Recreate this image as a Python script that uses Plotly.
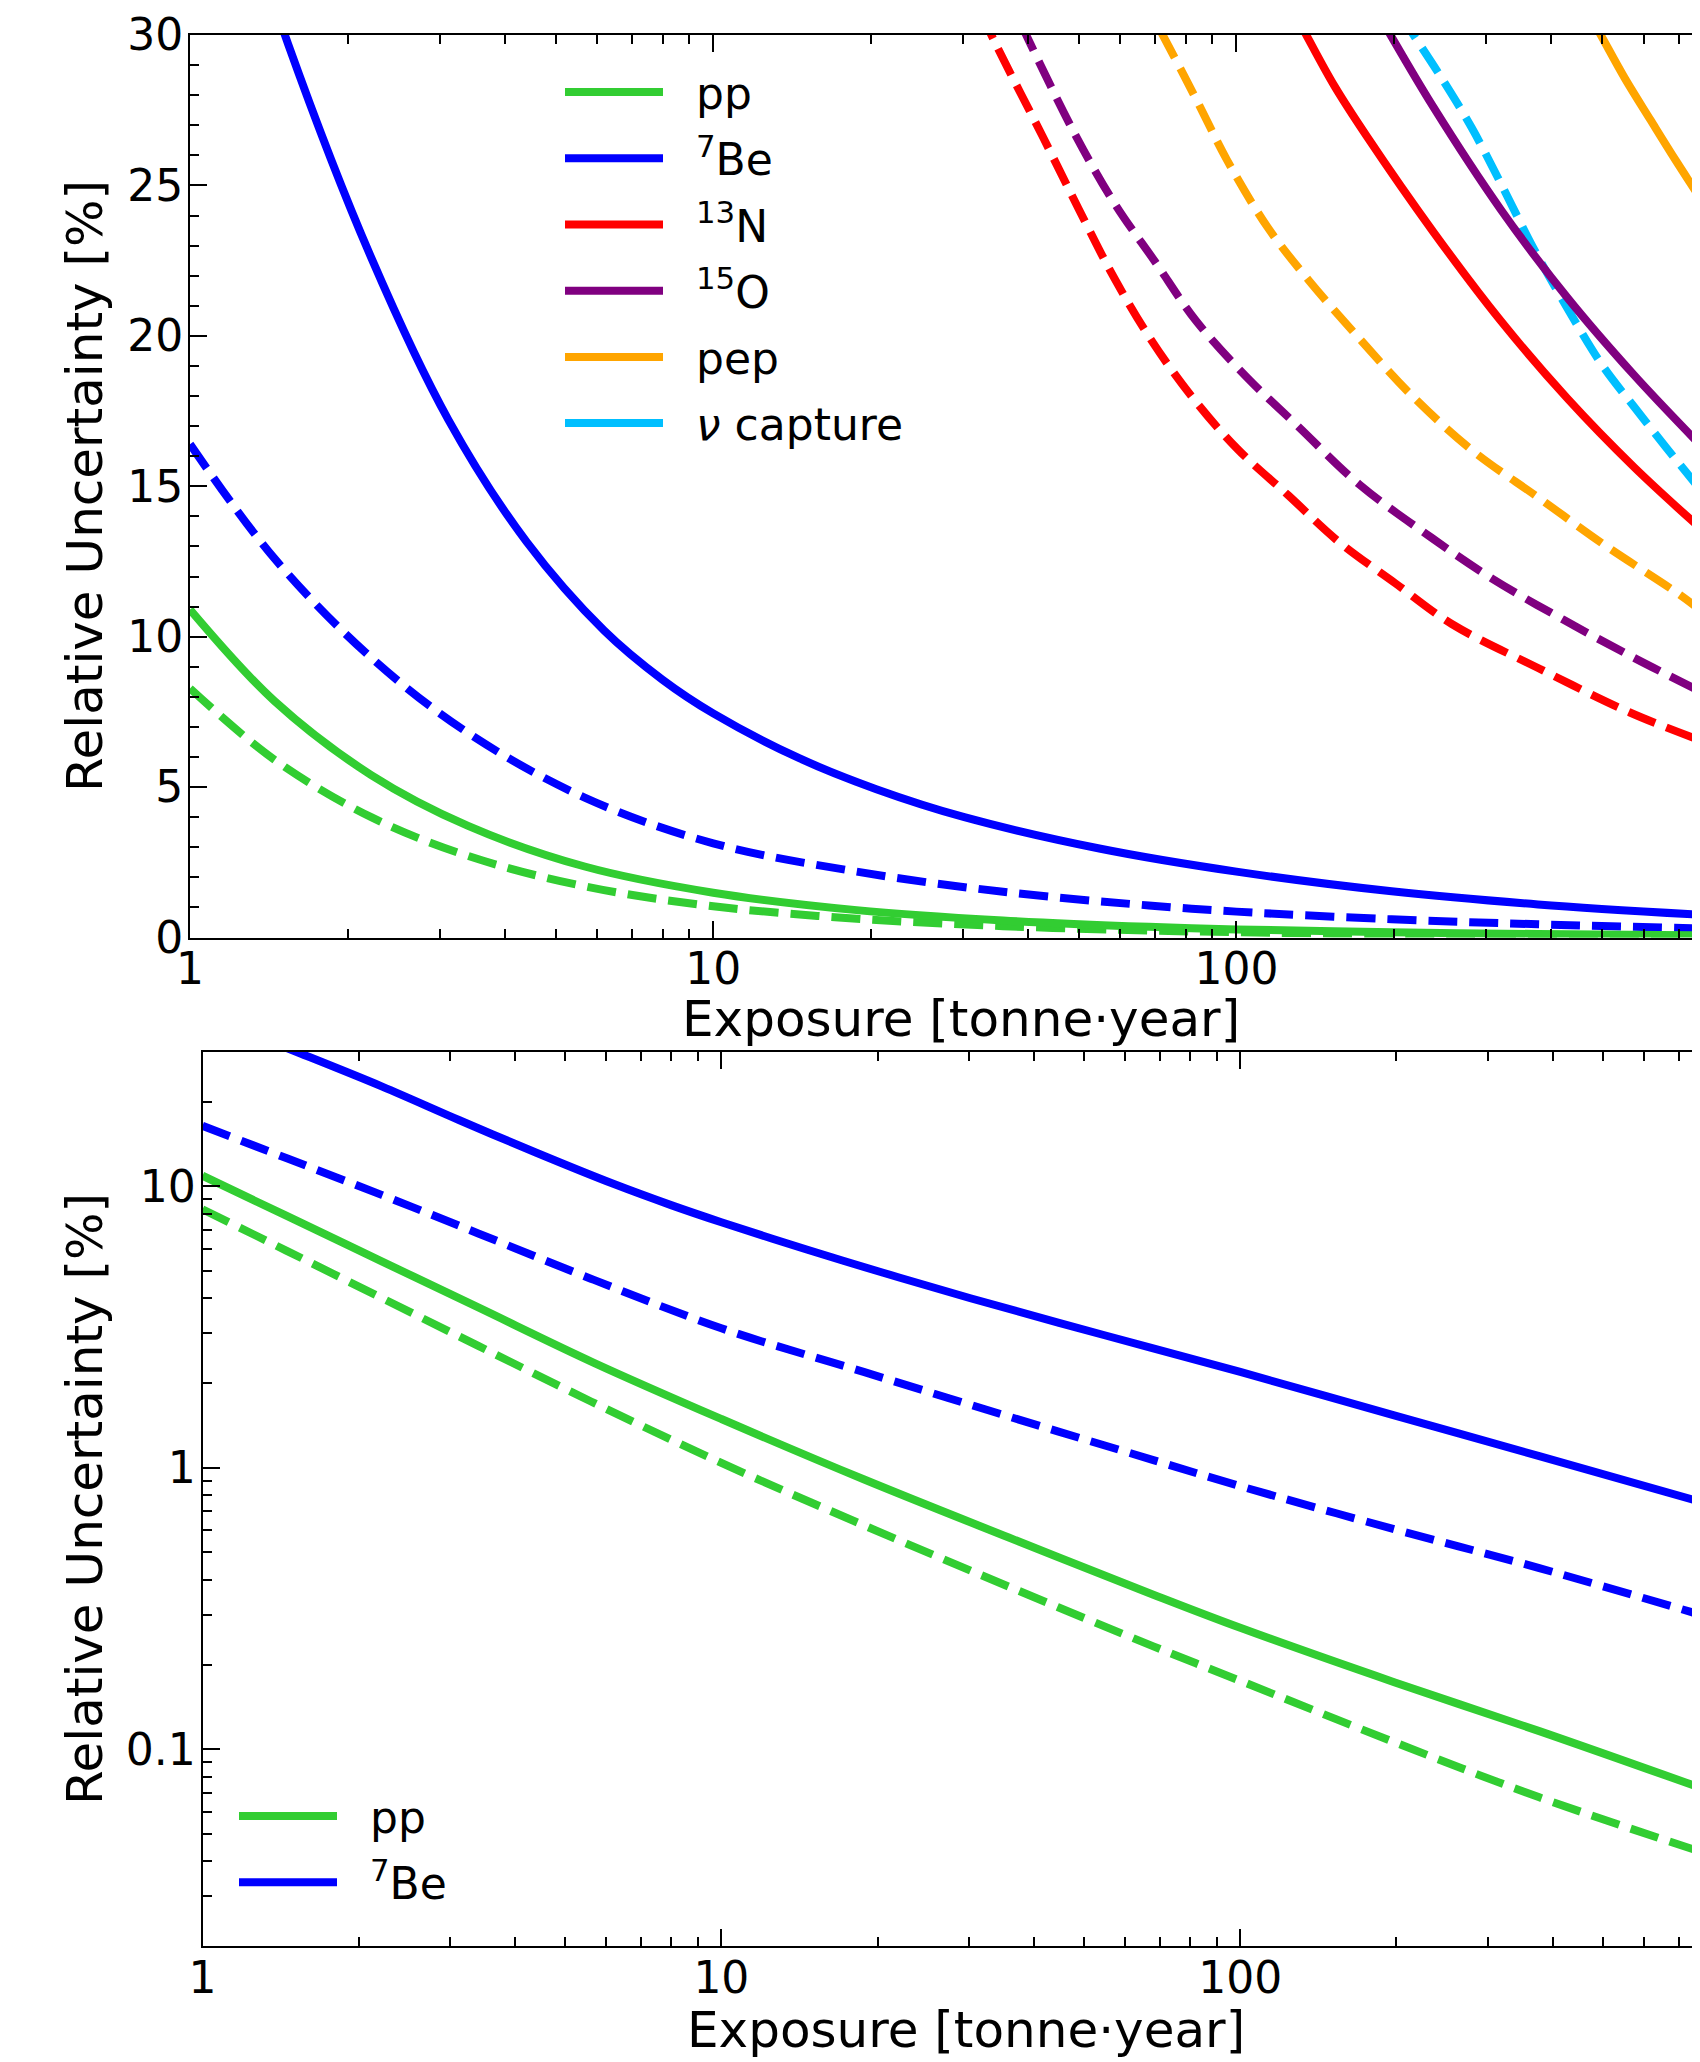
import plotly.graph_objects as go

# ---------------- data ----------------
# pp and 7Be (shared x grid for pp solid/dashed and 7Be dashed)
pp_x = [1, 1.45, 2.22, 3.40, 5.68, 10, 18.8, 35.8, 68, 100, 198, 377, 773]
pp_solid = [10.9, 7.86, 5.40, 3.71, 2.36, 1.49, 0.91, 0.565, 0.354, 0.27, 0.173, 0.116, 0.0728]
pp_dashed = [8.28, 5.91, 4.0, 2.71, 1.70, 1.04, 0.625, 0.378, 0.232, 0.175, 0.106, 0.0675, 0.0432]
be7_dashed = [16.4, 12.6, 9.3, 6.8, 4.65, 3.13, 2.19, 1.52, 1.065, 0.86, 0.605, 0.44, 0.30]

be7_solid_x = [1.3, 1.54, 2.22, 3.12, 4.40, 6.19, 8.0, 10, 14.6, 20.5, 30.2, 55, 100, 198, 377, 773]
be7_solid = [33.6, 29.7, 22.6, 17.2, 13.15, 10.2, 8.57, 7.45, 5.96, 4.93, 4.0, 2.95, 2.19, 1.535, 1.10, 0.756]

n13_dashed_x = [30, 34.9, 42.7, 50.0, 58.5, 68.5, 82, 100.3, 125.6, 157, 201, 258, 378, 565, 771]
n13_dashed = [32.0, 29.6, 26.6, 24.2, 21.9, 19.9, 18.0, 16.25, 14.7, 13.15, 11.78, 10.42, 8.95, 7.48, 6.55]

o15_dashed_x = [36, 40.4, 49.5, 58.5, 70, 83.7, 105, 131, 172, 235.5, 308, 422, 578, 771]
o15_dashed = [31.6, 29.7, 26.6, 24.4, 22.45, 20.5, 18.6, 17.0, 15.05, 13.3, 11.93, 10.56, 9.28, 8.18]

pep_dashed_x = [66, 72.4, 83.8, 95.9, 114.8, 137.4, 172, 215.4, 282, 378, 505, 692, 771]
pep_dashed = [31.3, 29.98, 27.86, 25.85, 23.6, 21.85, 19.9, 18.05, 16.2, 14.62, 13.05, 11.48, 10.88]

n13_solid_x = [125, 136, 154, 178, 238, 320, 429, 575, 771]
n13_solid = [31.2, 30.0, 28.3, 26.6, 23.45, 20.5, 17.92, 15.64, 13.6]

o15_solid_x = [180, 197, 238, 320, 429, 575, 771]
o15_solid = [31.2, 30.0, 27.6, 24.2, 21.27, 18.7, 16.36]

nucap_dashed_x = [205, 218, 246, 282, 322, 370, 429, 500, 575, 662, 771]
nucap_dashed = [30.7, 30.0, 28.6, 26.9, 24.98, 22.9, 20.92, 19.03, 17.65, 16.3, 14.88]

pep_solid_x = [470, 497, 553, 619, 692, 771]
pep_solid = [30.75, 30.0, 28.55, 27.17, 25.82, 24.56]

# tick labels
x_tickvals = [1, 10, 100]
x_ticktext = ["1", "10", "100"]
y1_tickvals = [0, 5, 10, 15, 20, 25, 30]
y2_tickvals = [0.1, 1, 10]
y2_ticktext = ["0.1", "1", "10"]

# ---------------- styling ----------------
FONT = "DejaVu Sans"
# the page body adds an 8 px margin, so the figure is 8 px smaller than the window
W, H = 1692, 2054
LW = 8
DASH = "29px,12px"
C = dict(pp="#32CD32", be="#0000FF", n="#FF0000", o="#800080", pep="#FFA500", nu="#00BFFF")
SP = "\u00a0\u00a0"
NAMES = dict(pp=SP + "pp", be=SP + "<sup>7</sup>Be", n=SP + "<sup>13</sup>N",
             o=SP + "<sup>15</sup>O", pep=SP + "pep", nu=SP + "<i>ν</i> capture")

fig = go.Figure()


def add(x, y, key, dashed, xa, ya, legend=None, rank=None):
    fig.add_trace(go.Scatter(
        x=x, y=y, mode="lines", xaxis=xa, yaxis=ya,
        line=dict(color=C[key], width=LW, dash=DASH if dashed else "solid",
                  shape="spline", smoothing=1.0),
        name=NAMES[key], showlegend=legend is not None,
        legend=legend if legend else "legend",
        legendgroup=(legend + key) if legend else None,
        legendrank=rank if rank else 1000,
        hoverinfo="skip"))


# top panel (linear y)
add(pp_x, pp_dashed, "pp", True, "x", "y")
add(pp_x, be7_dashed, "be", True, "x", "y")
add(n13_dashed_x, n13_dashed, "n", True, "x", "y")
add(o15_dashed_x, o15_dashed, "o", True, "x", "y")
add(pep_dashed_x, pep_dashed, "pep", True, "x", "y")
add(nucap_dashed_x, nucap_dashed, "nu", True, "x", "y")
add(pp_x, pp_solid, "pp", False, "x", "y", "legend", 1)
add(be7_solid_x, be7_solid, "be", False, "x", "y", "legend", 2)
add(n13_solid_x, n13_solid, "n", False, "x", "y", "legend", 3)
add(o15_solid_x, o15_solid, "o", False, "x", "y", "legend", 4)
add(pep_solid_x, pep_solid, "pep", False, "x", "y", "legend", 5)
# legend proxy for the neutrino-capture entry (solid swatch, no data)
fig.add_trace(go.Scatter(x=[None], y=[None], mode="lines", xaxis="x", yaxis="y",
                         line=dict(color=C["nu"], width=LW), name=NAMES["nu"],
                         legend="legend", legendgroup="legendnu", legendrank=6))

# bottom panel (log y)
add(pp_x, pp_dashed, "pp", True, "x2", "y2")
add(pp_x, be7_dashed, "be", True, "x2", "y2")
add(pp_x, pp_solid, "pp", False, "x2", "y2", "legend2", 1)
add(be7_solid_x, be7_solid, "be", False, "x2", "y2", "legend2", 2)

tickfont = dict(family=FONT, size=44, color="black")
common_x = dict(type="log", range=[0, 2.886], showgrid=False, zeroline=False,
                showline=True, linecolor="black", linewidth=2, mirror="ticks",
                ticks="inside", ticklen=17, tickwidth=2, tickcolor="black",
                tickvals=x_tickvals, ticktext=x_ticktext, tickfont=tickfont,
                automargin=False, ticklabelstandoff=-8,
                minor=dict(tickvals=[2, 3, 4, 5, 6, 7, 8, 9, 20, 30, 40, 50, 60, 70, 80, 90,
                                     200, 300, 400, 500, 600, 700],
                           ticks="inside", ticklen=9, tickwidth=1.5, tickcolor="black"))
common_y = dict(showgrid=False, zeroline=False, showline=True, linecolor="black",
                linewidth=2, mirror=False, ticks="inside", ticklen=17, tickwidth=2,
                tickcolor="black", tickfont=tickfont, automargin=False,
                ticklabelstandoff=-4)

legend_font = dict(family=FONT, size=44, color="black")
fig.update_layout(
    template="none",
    width=W, height=H, margin=dict(l=0, r=0, t=0, b=0, pad=0, autoexpand=False),
    paper_bgcolor="white", plot_bgcolor="white",
    font=dict(family=FONT, color="black"),
    xaxis=dict(common_x, domain=[182 / W, 1.0], anchor="y"),
    yaxis=dict(common_y, range=[0, 30], tickvals=y1_tickvals,
               minor=dict(dtick=1, ticks="inside", ticklen=9, tickwidth=1.5, tickcolor="black"),
               domain=[(H - 929.5) / H, (H - 27) / H], anchor="x"),
    xaxis2=dict(common_x, domain=[194.5 / W, 1.0], anchor="y2"),
    yaxis2=dict(common_y, type="log", range=[-1.699, 1.477], tickvals=y2_tickvals,
                ticktext=y2_ticktext,
                minor=dict(tickvals=[0.02, 0.03, 0.04, 0.05, 0.06, 0.07, 0.08, 0.09,
                                     0.2, 0.3, 0.4, 0.5, 0.6, 0.7, 0.8, 0.9,
                                     2, 3, 4, 5, 6, 7, 8, 9, 20],
                           ticks="inside", ticklen=9, tickwidth=1.5, tickcolor="black"),
                domain=[(H - 1938) / H, (H - 1044) / H], anchor="x2"),
    legend=dict(x=552 / W, y=1 - 49 / H, xanchor="left", yanchor="top",
                font=legend_font, bgcolor="rgba(0,0,0,0)",
                itemwidth=98, tracegroupgap=6, traceorder="grouped"),
    legend2=dict(x=226 / W, y=1 - 1773 / H, xanchor="left", yanchor="top",
                 font=legend_font, bgcolor="rgba(0,0,0,0)",
                 itemwidth=98, tracegroupgap=6, traceorder="grouped"),
)

title_font = dict(family=FONT, size=50, color="black")
ann = [
    dict(text="Relative Uncertainty [%]", x=77 / W, y=(H - 478) / H, textangle=-90),
    dict(text="Relative Uncertainty [%]", x=77 / W, y=(H - 1491) / H, textangle=-90),
    dict(text="Exposure [tonne·year]", x=953 / W, y=(H - 1011) / H),
    dict(text="Exposure [tonne·year]", x=958 / W, y=(H - 2022) / H),
]
for a in ann:
    fig.add_annotation(xref="paper", yref="paper", showarrow=False, font=title_font,
                       xanchor="center", yanchor="middle", **a)

fig.write_html("out.html")
